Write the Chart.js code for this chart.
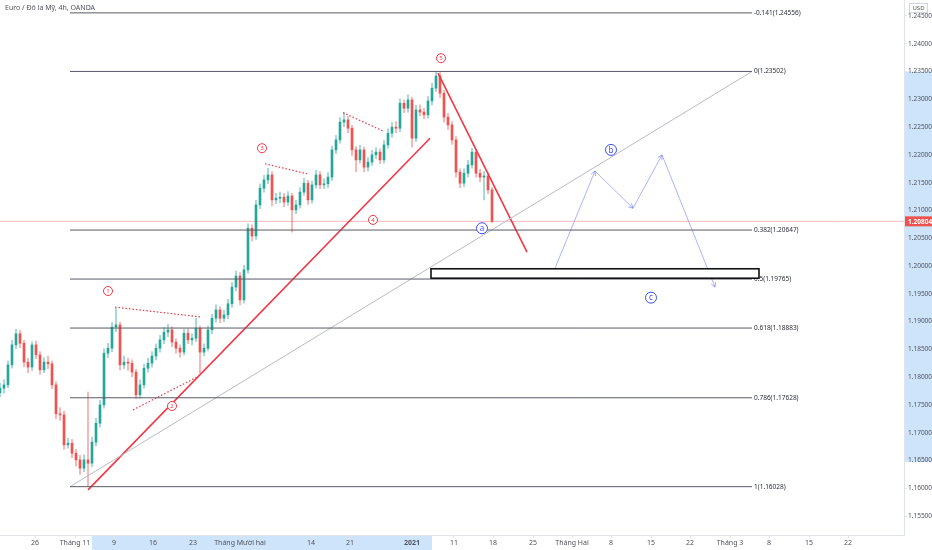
<!DOCTYPE html>
<html>
<head>
<meta charset="utf-8">
<script src="https://cdn.jsdelivr.net/npm/chart.js@4.4.0/dist/chart.umd.min.js"></script>
<style>
  html, body { margin: 0; padding: 0; background: #fff; }
  #wrap { width: 932px; height: 550px; }
</style>
</head>
<body>
<div id="wrap"><canvas id="chart"></canvas></div>
<script>
// EUR/USD 4h candles, one value per candle (index = position on the x axis)
const opens = [1.1772,1.1780,1.1786,1.1822,1.1858,1.1878,1.1861,1.1827,1.1818,1.1858,
  1.1840,1.1813,1.1827,1.1824,1.1786,1.1734,1.1732,1.1678,1.1681,1.1663,
  1.1651,1.1636,1.1651,1.1645,1.1683,1.1717,1.1750,1.1843,1.1852,1.1890,
  1.1894,1.1822,1.1827,1.1825,1.1809,1.1768,1.1786,1.1816,1.1825,1.1838,
  1.1852,1.1867,1.1881,1.1885,1.1863,1.1852,1.1845,1.1879,1.1867,1.1870,
  1.1888,1.1845,1.1852,1.1885,1.1906,1.1921,1.1906,1.1912,1.1932,1.1962,
  1.1982,1.1939,1.1993,1.2068,1.2054,1.2110,1.2140,1.2155,1.2164,1.2119,
  1.2122,1.2124,1.2115,1.2126,1.2101,1.2110,1.2133,1.2149,1.2119,1.2146,
  1.2164,1.2146,1.2148,1.2160,1.2209,1.2227,1.2259,1.2263,1.2248,1.2209,
  1.2191,1.2209,1.2178,1.2187,1.2200,1.2205,1.2191,1.2218,1.2239,1.2250,
  1.2248,1.2293,1.2284,1.2299,1.2230,1.2281,1.2277,1.2272,1.2297,1.2320,
  1.2342,1.2311,1.2268,1.2254,1.2227,1.2169,1.2149,1.2167,1.2182,1.2205,
  1.2167,1.2160,1.2162,1.2137];
const highs = [1.1789,1.1795,1.1829,1.1866,1.1886,1.1884,1.1866,1.1834,1.1864,1.1865,
  1.1846,1.1835,1.1838,1.1829,1.1792,1.1745,1.1739,1.1690,1.1688,1.1670,
  1.1659,1.1660,1.1773,1.1692,1.1726,1.1758,1.1851,1.1861,1.1898,1.1924,
  1.1899,1.1838,1.1834,1.1831,1.1814,1.1795,1.1823,1.1834,1.1846,1.1860,
  1.1875,1.1889,1.1895,1.1891,1.1869,1.1858,1.1886,1.1887,1.1878,1.1906,
  1.1892,1.1860,1.1892,1.1913,1.1930,1.1927,1.1920,1.1940,1.1970,1.1991,
  1.1988,1.2001,1.2076,1.2074,1.2118,1.2148,1.2163,1.2176,1.2170,1.2131,
  1.2133,1.2131,1.2134,1.2131,1.2118,1.2141,1.2158,1.2154,1.2153,1.2172,
  1.2170,1.2157,1.2168,1.2216,1.2235,1.2267,1.2276,1.2269,1.2253,1.2215,
  1.2217,1.2214,1.2195,1.2208,1.2213,1.2211,1.2226,1.2247,1.2258,1.2260,
  1.2301,1.2299,1.2308,1.2304,1.2289,1.2290,1.2284,1.2305,1.2329,1.2350,
  1.2348,1.2316,1.2275,1.2260,1.2233,1.2175,1.2175,1.2190,1.2212,1.2210,
  1.2174,1.2170,1.2168,1.2141];
const lows = [1.1765,1.1771,1.1781,1.1816,1.1851,1.1853,1.1819,1.1808,1.1812,1.1833,
  1.1805,1.1808,1.1815,1.1779,1.1725,1.1722,1.1670,1.1672,1.1655,1.1640,
  1.1625,1.1630,1.1603,1.1639,1.1676,1.1710,1.1744,1.1835,1.1846,1.1882,
  1.1813,1.1815,1.1812,1.1801,1.1761,1.1762,1.1780,1.1809,1.1818,1.1831,
  1.1845,1.1860,1.1873,1.1855,1.1843,1.1836,1.1840,1.1860,1.1858,1.1864,
  1.1807,1.1838,1.1847,1.1878,1.1899,1.1898,1.1900,1.1905,1.1926,1.1955,
  1.1930,1.1933,1.1987,1.2045,1.2048,1.2103,1.2133,1.2148,1.2108,1.2112,
  1.2114,1.2107,1.2109,1.2061,1.2094,1.2104,1.2127,1.2111,1.2113,1.2140,
  1.2139,1.2139,1.2141,1.2154,1.2202,1.2221,1.2251,1.2240,1.2199,1.2170,
  1.2185,1.2170,1.2171,1.2181,1.2193,1.2184,1.2185,1.2212,1.2232,1.2240,
  1.2242,1.2276,1.2277,1.2214,1.2224,1.2270,1.2265,1.2266,1.2290,1.2314,
  1.2303,1.2259,1.2246,1.2219,1.2160,1.2141,1.2143,1.2160,1.2176,1.2160,
  1.2152,1.2119,1.2130,1.2078];
const closes = [1.1780,1.1786,1.1822,1.1858,1.1878,1.1861,1.1827,1.1818,1.1858,1.1840,
  1.1813,1.1827,1.1824,1.1786,1.1734,1.1732,1.1678,1.1681,1.1663,1.1651,
  1.1636,1.1651,1.1645,1.1683,1.1717,1.1750,1.1843,1.1852,1.1890,1.1894,
  1.1822,1.1827,1.1825,1.1809,1.1768,1.1786,1.1816,1.1825,1.1838,1.1852,
  1.1867,1.1881,1.1885,1.1863,1.1852,1.1845,1.1879,1.1867,1.1870,1.1888,
  1.1845,1.1852,1.1885,1.1906,1.1921,1.1906,1.1912,1.1932,1.1962,1.1982,
  1.1939,1.1993,1.2068,1.2054,1.2110,1.2140,1.2155,1.2164,1.2119,1.2122,
  1.2124,1.2115,1.2126,1.2101,1.2110,1.2133,1.2149,1.2119,1.2146,1.2164,
  1.2146,1.2148,1.2160,1.2209,1.2227,1.2259,1.2263,1.2248,1.2209,1.2191,
  1.2209,1.2178,1.2187,1.2200,1.2205,1.2191,1.2218,1.2239,1.2250,1.2248,
  1.2293,1.2284,1.2299,1.2230,1.2281,1.2277,1.2272,1.2297,1.2320,1.2342,
  1.2311,1.2268,1.2254,1.2227,1.2169,1.2149,1.2167,1.2182,1.2205,1.2167,
  1.2160,1.2162,1.2137,1.20804];
const lastPrice = 1.20804;

// axes
const xTickPos = [8.75, 18.75, 28.5, 38.25, 48.25, 60, 77.75, 87.5, 103, 113.5,
  123.25, 133.25, 143, 152.75, 162.75, 172.5, 182.5, 192.25, 202.25, 212];
const xTickLabels = ['26', 'Tháng 11', '9', '16', '23', 'Tháng Mười hai', '14', '21', '2021', '11',
  '18', '25', 'Tháng Hai', '8', '15', '22', 'Tháng 3', '8', '15', '22'];
const yTicks = [1.155, 1.16, 1.165, 1.17, 1.175, 1.18, 1.185, 1.19, 1.195, 1.2,
  1.205, 1.21, 1.215, 1.22, 1.225, 1.23, 1.235, 1.24, 1.245];
const xRange = [0, 226];
const yRange = [1.15158, 1.24788];
const axisHighlightX = [23, 108];
const axisHighlightY = [1.1647, 1.2350];

// fibonacci retracement drawing
const fibLevels = ['-0.141', '0', '0.382', '0.5', '0.618', '0.786', '1'];
const fibPrices = [1.24556, 1.23502, 1.20647, 1.19765, 1.18883, 1.17628, 1.16028];
const fibSpan = [17.5, 188];

// trend lines and wave drawings [x, price]
const redTrendUp = [[22, 1.1597], [107.5, 1.2230]];
const redTrendDown = [[109.5, 1.2347], [131.75, 1.2025]];
const grayTrend = [[17.5, 1.16028], [188, 1.23502]];
const dottedLines = [
  [[28.75, 1.1926], [50.5, 1.1908]],
  [[33.25, 1.1741], [49.25, 1.1800]],
  [[66.25, 1.2184], [76.75, 1.2166]],
  [[85.75, 1.2276], [95.75, 1.2243]],
];
const projection = [[138.75, 1.1996], [148.75, 1.2171], [158.25, 1.2104], [165.5, 1.2200], [178.75, 1.1962]];
const zoneBox = [[107.75, 1.1995], [189.75, 1.1978]];
const waveNumbers = [['1', 27, 1.1955], ['2', 43, 1.1748], ['3', 65.5, 1.2212], ['4', 93.25, 1.2083], ['5', 110.25, 1.2374]];
const waveLetters = [['a', 120.5, 1.2068], ['b', 152.75, 1.2209], ['c', 162.75, 1.1943]];

const UP = '#26a69a';
const DOWN = '#ef5350';
const RED = '#f23645';
const BLUE = '#3d4ff0';
const FONT = '"Noto Sans", "DejaVu Sans", sans-serif';

const candleColor = (i, alpha) => {
  const up = closes[i] >= opens[i];
  return alpha ? (up ? 'rgba(38,166,154,0.5)' : 'rgba(239,83,80,0.5)') : (up ? UP : DOWN);
};

const toPoints = pairs => pairs.map(([x, y]) => ({ x, y }));

function lineSet(points, color, width, dash, order) {
  return {
    type: 'line',
    data: toPoints(points),
    borderColor: color,
    borderWidth: width,
    borderDash: dash || [],
    pointRadius: 0,
    fill: false,
    tension: 0,
    order,
  };
}

const datasets = [];
fibPrices.forEach(p => datasets.push(lineSet([[fibSpan[0], p], [fibSpan[1], p]], '#585b66', 1, null, 1)));
datasets.push(lineSet(grayTrend, '#b8bbc4', 1, null, 1));
datasets.push(lineSet(redTrendUp, RED, 1.6, null, 1));
datasets.push(lineSet(redTrendDown, RED, 1.6, null, 1));
dottedLines.forEach(seg => datasets.push(lineSet(seg, RED, 1.2, [1.5, 2], 1)));
datasets.push(lineSet(projection, 'rgba(120,130,245,0.6)', 1, null, 1));
datasets.push(lineSet([[xRange[0], lastPrice], [xRange[1], lastPrice]], 'rgba(242,54,69,0.35)', 1, null, 5));

datasets.push({
  type: 'bar',
  data: opens.map((o, i) => ({ x: i, y: [o, closes[i]] })),
  backgroundColor: ctx => candleColor(ctx.dataIndex, false),
  barThickness: 2,
  minBarLength: 1,
  grouped: false,
  order: 3,
});
datasets.push({
  type: 'bar',
  data: highs.map((h, i) => ({ x: i, y: [lows[i], h] })),
  backgroundColor: ctx => candleColor(ctx.dataIndex, true),
  barThickness: 1,
  grouped: false,
  order: 4,
});

function drawCircleLabel(ctx, text, px, py, r, color, size) {
  ctx.beginPath();
  ctx.arc(px, py, r, 0, Math.PI * 2);
  ctx.fillStyle = '#fff';
  ctx.fill();
  ctx.lineWidth = 1;
  ctx.strokeStyle = color;
  ctx.stroke();
  ctx.fillStyle = color;
  ctx.font = `${size}px ${FONT}`;
  ctx.textAlign = 'center';
  ctx.textBaseline = 'middle';
  ctx.fillText(text, px, py + 0.5);
}

function drawArrowHead(ctx, fx, fy, tx, ty) {
  const ang = Math.atan2(ty - fy, tx - fx);
  const len = 5;
  ctx.beginPath();
  ctx.moveTo(tx - len * Math.cos(ang - 0.5), ty - len * Math.sin(ang - 0.5));
  ctx.lineTo(tx, ty);
  ctx.lineTo(tx - len * Math.cos(ang + 0.5), ty - len * Math.sin(ang + 0.5));
  ctx.stroke();
}

const overlay = {
  id: 'overlay',
  beforeDraw(chart) {
    const { ctx, chartArea: a, scales: { x, y } } = chart;
    ctx.save();
    ctx.fillStyle = '#cde4fa';
    const y1 = y.getPixelForValue(axisHighlightY[1]);
    const y2 = y.getPixelForValue(axisHighlightY[0]);
    ctx.fillRect(a.right + 0.5, y1, chart.width - a.right, y2 - y1);
    const x1 = x.getPixelForValue(axisHighlightX[0]);
    const x2 = x.getPixelForValue(axisHighlightX[1]);
    ctx.fillRect(x1, a.bottom + 0.5, x2 - x1, chart.height - a.bottom);
    ctx.restore();
  },
  afterDatasetsDraw(chart) {
    const { ctx, scales: { x, y } } = chart;
    ctx.save();

    // fib labels
    ctx.font = `6.5px ${FONT}`;
    ctx.fillStyle = '#2a2e39';
    ctx.textAlign = 'left';
    ctx.textBaseline = 'middle';
    fibPrices.forEach((p, i) => {
      ctx.fillText(`${fibLevels[i]}(${p.toFixed(5)})`, x.getPixelForValue(fibSpan[1]) + 2, y.getPixelForValue(p));
    });

    // zone box
    const bx1 = x.getPixelForValue(zoneBox[0][0]);
    const bx2 = x.getPixelForValue(zoneBox[1][0]);
    const by1 = y.getPixelForValue(zoneBox[0][1]);
    const by2 = y.getPixelForValue(zoneBox[1][1]);
    ctx.fillStyle = '#fff';
    ctx.fillRect(bx1, by1, bx2 - bx1, by2 - by1);
    ctx.lineWidth = 1.6;
    ctx.strokeStyle = '#111';
    ctx.strokeRect(bx1, by1, bx2 - bx1, by2 - by1);

    // projection arrow heads
    ctx.strokeStyle = 'rgba(120,130,245,0.7)';
    ctx.lineWidth = 1;
    for (let i = 1; i < projection.length; i += 1) {
      drawArrowHead(ctx,
        x.getPixelForValue(projection[i - 1][0]), y.getPixelForValue(projection[i - 1][1]),
        x.getPixelForValue(projection[i][0]), y.getPixelForValue(projection[i][1]));
    }

    waveNumbers.forEach(([t, vx, vy]) => drawCircleLabel(ctx, t, x.getPixelForValue(vx), y.getPixelForValue(vy), 4.5, RED, 6));
    waveLetters.forEach(([t, vx, vy]) => drawCircleLabel(ctx, t, x.getPixelForValue(vx), y.getPixelForValue(vy), 5.5, BLUE, 8));

    // title
    ctx.font = `7px ${FONT}`;
    ctx.fillStyle = '#50535e';
    ctx.textAlign = 'left';
    ctx.textBaseline = 'middle';
    ctx.fillText('Euro / Đô la Mỹ, 4h, OANDA', 5, 8);
    ctx.restore();
  },
  afterDraw(chart) {
    const { ctx, chartArea: a, scales: { y } } = chart;
    ctx.save();
    // last price tag
    const py = y.getPixelForValue(lastPrice);
    ctx.fillStyle = DOWN;
    ctx.fillRect(a.right + 1, py - 5, chart.width - a.right - 1, 10);
    ctx.fillStyle = '#fff';
    ctx.font = `bold 6.5px ${FONT}`;
    ctx.textAlign = 'left';
    ctx.textBaseline = 'middle';
    ctx.fillText(lastPrice.toFixed(5), a.right + 4, py + 0.5);
    // currency box
    ctx.fillStyle = '#fff';
    ctx.fillRect(a.right + 5, 3, 18, 9);
    ctx.strokeStyle = '#d1d4dc';
    ctx.lineWidth = 1;
    ctx.strokeRect(a.right + 5.5, 3.5, 18, 9);
    ctx.fillStyle = '#50535e';
    ctx.font = `6px ${FONT}`;
    ctx.textAlign = 'center';
    ctx.fillText('USD', a.right + 14.5, 8.5);
    ctx.restore();
  },
};

new Chart(document.getElementById('chart'), {
  type: 'bar',
  data: { datasets },
  options: {
    responsive: true,
    maintainAspectRatio: false,
    animation: false,
    layout: { padding: 0 },
    plugins: { legend: { display: false }, tooltip: { enabled: false } },
    scales: {
      x: {
        type: 'linear',
        min: xRange[0],
        max: xRange[1],
        offset: false,
        grid: { offset: false, drawOnChartArea: false, tickLength: 3, color: '#e0e3eb' },
        border: { color: '#e0e3eb' },
        afterBuildTicks: scale => { scale.ticks = xTickPos.map(v => ({ value: v })); },
        afterFit: scale => { scale.height = 15; scale.paddingLeft = 0; scale.paddingRight = 0; },
        ticks: {
          autoSkip: false,
          maxRotation: 0,
          padding: 1,
          color: '#50535e',
          font: ctx => ({ family: FONT, size: 7, weight: ctx.tick && ctx.tick.label === '2021' ? 'bold' : 'normal' }),
          callback: (value, index) => xTickLabels[index],
        },
      },
      y: {
        type: 'linear',
        position: 'right',
        min: yRange[0],
        max: yRange[1],
        grid: { drawOnChartArea: false, tickLength: 3, color: '#e0e3eb' },
        border: { color: '#e0e3eb' },
        afterBuildTicks: scale => { scale.ticks = yTicks.map(v => ({ value: v })); },
        afterFit: scale => { scale.width = 28; scale.paddingTop = 0; scale.paddingBottom = 0; },
        ticks: {
          padding: 1,
          color: '#50535e',
          font: { family: FONT, size: 6.5 },
          callback: value => Number(value).toFixed(5),
        },
      },
    },
  },
  plugins: [overlay],
});
</script>
</body>
</html>
